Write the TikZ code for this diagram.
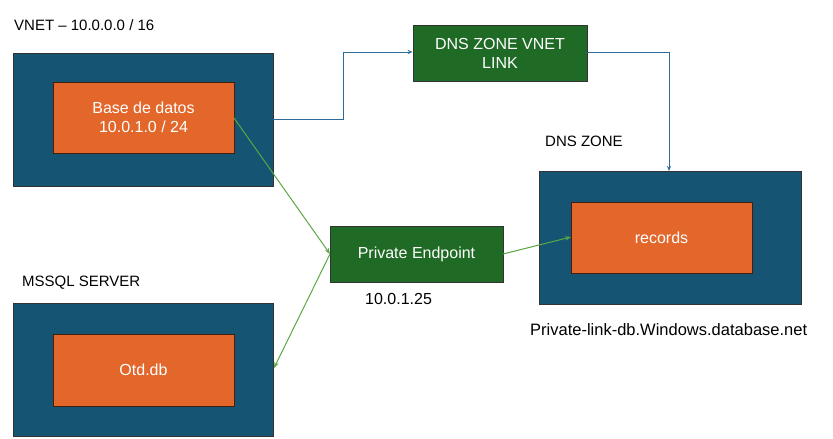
\documentclass[tikz,border=0pt]{standalone}
\usepackage{fontspec}
\setmainfont{Liberation Sans}
\usetikzlibrary{arrows.meta}
\definecolor{outerblue}{HTML}{155473}
\definecolor{boxorange}{HTML}{E3662A}
\definecolor{boxgreen}{HTML}{1F6A24}
\definecolor{linkblue}{HTML}{2F6B98}
\definecolor{arrowgreen}{HTML}{5AA844}
\begin{document}
\begin{tikzpicture}[x=1pt,y=-1pt,
  font=\fontsize{16}{19}\selectfont,
  outerbox/.style={draw=black!80,line width=0.8pt,fill=outerblue,inner sep=0pt},
  innerbox/.style={draw=black!70!boxorange,line width=0.8pt,fill=boxorange,text=white,align=center,inner sep=0pt},
  greenbox/.style={draw=black!80,line width=0.8pt,fill=boxgreen,text=white,align=center,inner sep=0pt},
  label/.style={text=black,inner sep=0pt,font=\fontsize{15}{18}\selectfont},
  bluelink/.style={draw=linkblue,line width=1pt,-{Stealth[length=5pt,width=4pt]}},
  greenlink/.style={draw=arrowgreen,line width=1pt,-{Stealth[length=6pt,width=4.5pt]}}]
\useasboundingbox[fill=white] (0,0) rectangle (833,439);
% VNET
\node[outerbox,minimum width=260pt,minimum height=133pt] (vnet) at (143,119.5) {};
\node[innerbox,minimum width=181pt,minimum height=71pt] (db) at (143.5,117.5) {Base de datos\\[0pt]10.0.1.0 / 24};
\node[label,anchor=west] (vnetlbl) at (14,25) {VNET – 10.0.0.0 / 16};
% MSSQL
\node[outerbox,minimum width=260pt,minimum height=133pt] (sql) at (143,369.5) {};
\node[innerbox,minimum width=181pt,minimum height=72pt] (otd) at (143.5,370) {Otd.db};
\node[label,anchor=west] (sqllbl) at (22,283) {MSSQL SERVER};
% DNS zone VNET link
\node[greenbox,minimum width=174pt,minimum height=56pt] (link) at (500,53) {DNS ZONE VNET\\[0pt]LINK};
% DNS zone
\node[outerbox,minimum width=262pt,minimum height=133pt] (zone) at (670,237.5) {};
\node[innerbox,minimum width=181pt,minimum height=71pt] (rec) at (661.5,237.5) {records};
\node[label,anchor=west] (zonelbl) at (545,141) {DNS ZONE};
\node[label,anchor=west,font=\fontsize{16.5}{19}\selectfont] (zonename) at (530,330) {Private-link-db.Windows.database.net};
% Private endpoint
\node[greenbox,minimum width=173pt,minimum height=56pt] (pe) at (416.5,254) {Private Endpoint};
\node[label,anchor=west,font=\fontsize{16}{19}\selectfont] (peip) at (365,299) {10.0.1.25};
% connectors
\coordinate (v1) at (273,119);
\draw[bluelink] (v1) -- (343,119) -- (343,52) -- (link.west |- 0,52);
\coordinate (l1) at (587,52);
\draw[bluelink] (l1) -- (669,52) -- (669,171);
\coordinate (dbr) at (234,118);
\coordinate (pel) at (330,254);
\coordinate (sqlr) at (274,368);
\coordinate (per) at (503,254);
\coordinate (recl) at (571,237);
\draw[greenlink] (dbr) -- (pel);
\draw[greenlink] (pel) -- (sqlr);
\draw[greenlink] (per) -- (recl);
\end{tikzpicture}
\end{document}
